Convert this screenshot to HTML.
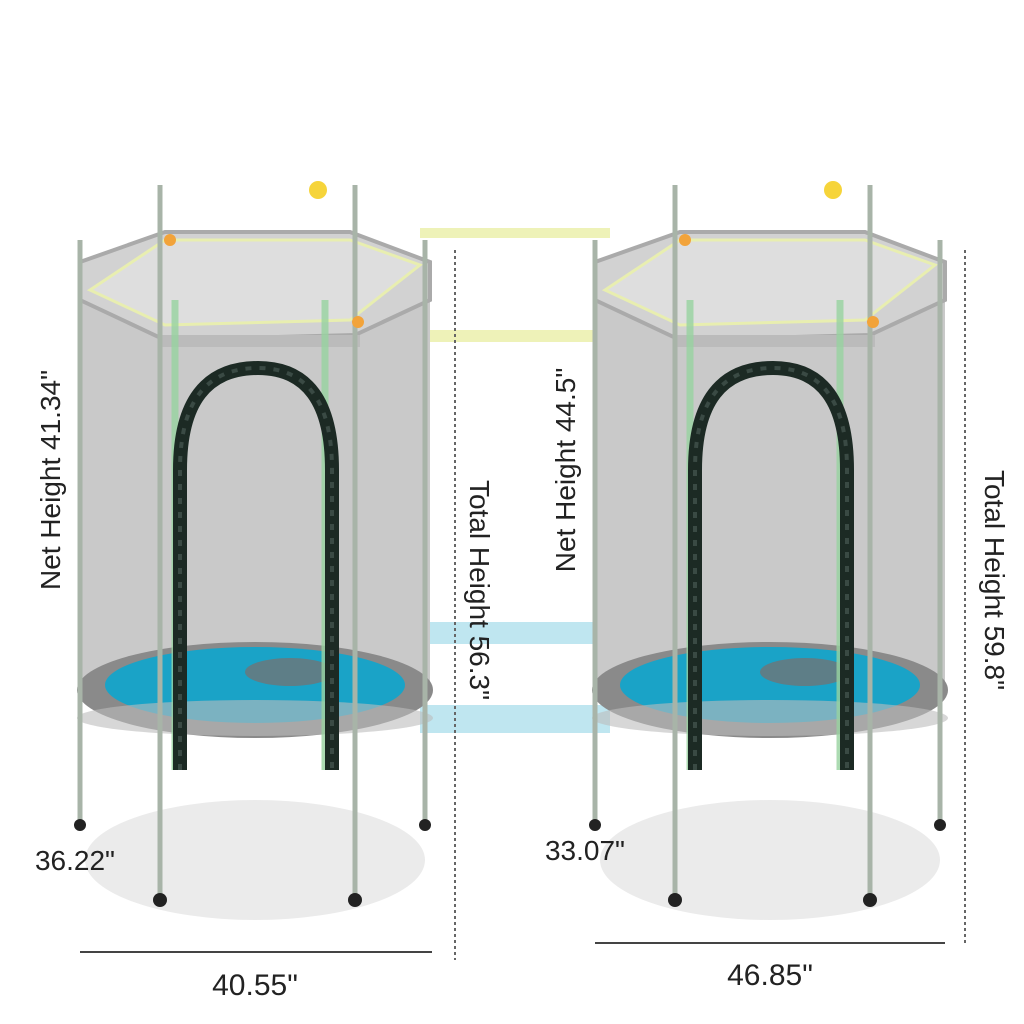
<!DOCTYPE html>
<html><head><meta charset="utf-8"><style>
html,body{margin:0;padding:0;background:#fff;}
svg{display:block}
text{font-family:"Liberation Sans",sans-serif;fill:#222}
</style></head><body>
<svg width="1024" height="1024" viewBox="0 0 1024 1024" xmlns="http://www.w3.org/2000/svg">
<defs>
<g id="tr">
  <ellipse cx="255" cy="860" rx="170" ry="60" fill="#ebebeb"/>
  <path d="M80,260 L160,235 L355,235 L430,260 L430,690 L80,690 Z" fill="#c9c9c9"/>
  <path d="M80,262 L165,232 L350,232 L430,262 L430,300 L355,335 L165,340 L80,300 Z" fill="#d2d2d2" stroke="#aaa" stroke-width="4"/>
  <path d="M165,240 L350,240 L420,265 L350,320 L165,325 L90,290 Z" fill="#dedede" stroke="#e8eeb0" stroke-width="3"/>
  <rect x="160" y="335" width="200" height="12" fill="#bbb"/>
  <ellipse cx="255" cy="690" rx="178" ry="48" fill="#8a8a8a"/>
  <ellipse cx="255" cy="685" rx="150" ry="38" fill="#1aa3c7"/>
  <ellipse cx="290" cy="672" rx="45" ry="14" fill="#5e7e87"/>
  <ellipse cx="255" cy="718" rx="178" ry="18" fill="#bdbdbd" opacity="0.6"/>
  <g stroke="#a8b4a8" stroke-width="5">
    <line x1="80" y1="240" x2="80" y2="830"/>
    <line x1="425" y1="240" x2="425" y2="830"/>
    <line x1="160" y1="185" x2="160" y2="900"/>
    <line x1="355" y1="185" x2="355" y2="900"/>
  </g>
  <g stroke="#98d3a0" stroke-width="7" opacity="0.8">
    <line x1="175" y1="300" x2="175" y2="770"/>
    <line x1="325" y1="300" x2="325" y2="770"/>
  </g>
  <path d="M180,770 L180,470 Q180,368 258,368 Q332,368 332,470 L332,770" fill="none" stroke="#1c2a24" stroke-width="14"/>
  <path d="M180,770 L180,470 Q180,368 258,368 Q332,368 332,470 L332,770" fill="none" stroke="#3a4a44" stroke-width="4" stroke-dasharray="6,8"/>
  <g fill="#222">
    <circle cx="160" cy="900" r="7"/><circle cx="355" cy="900" r="7"/>
    <circle cx="80" cy="825" r="6"/><circle cx="425" cy="825" r="6"/>
  </g>
  <circle cx="318" cy="190" r="9" fill="#f6d43a"/>
  <circle cx="170" cy="240" r="6" fill="#f2a33a"/>
  <circle cx="358" cy="322" r="6" fill="#f2a33a"/>
</g>
</defs>
<!-- cross bands between -->
<rect x="420" y="228" width="190" height="10" fill="#eef2b8"/>
<rect x="420" y="330" width="190" height="12" fill="#eef2b8"/>
<rect x="420" y="622" width="190" height="22" fill="#bfe6f0"/>
<rect x="420" y="705" width="190" height="28" fill="#bfe6f0"/>
<use href="#tr"/>
<use href="#tr" transform="translate(515,0)"/>
<g stroke="#666" stroke-width="2" stroke-dasharray="3,3">
  <line x1="455" y1="250" x2="455" y2="960"/>
  <line x1="965" y1="250" x2="965" y2="945"/>
</g>
<line x1="80" y1="952" x2="432" y2="952" stroke="#444" stroke-width="2"/>
<line x1="595" y1="943" x2="945" y2="943" stroke="#444" stroke-width="2"/>
<text x="255" y="995" font-size="30" text-anchor="middle">40.55"</text>
<text x="770" y="985" font-size="30" text-anchor="middle">46.85"</text>
<text x="75" y="870" font-size="28" text-anchor="middle">36.22"</text>
<text x="585" y="860" font-size="28" text-anchor="middle">33.07"</text>
<text transform="translate(60,480) rotate(-90)" font-size="28" text-anchor="middle">Net Height 41.34"</text>
<text transform="translate(470,590) rotate(90)" font-size="28" text-anchor="middle">Total Height 56.3"</text>
<text transform="translate(575,470) rotate(-90)" font-size="28" text-anchor="middle">Net Height 44.5"</text>
<text transform="translate(985,580) rotate(90)" font-size="28" text-anchor="middle">Total Height 59.8"</text>
</svg>
</body></html>
